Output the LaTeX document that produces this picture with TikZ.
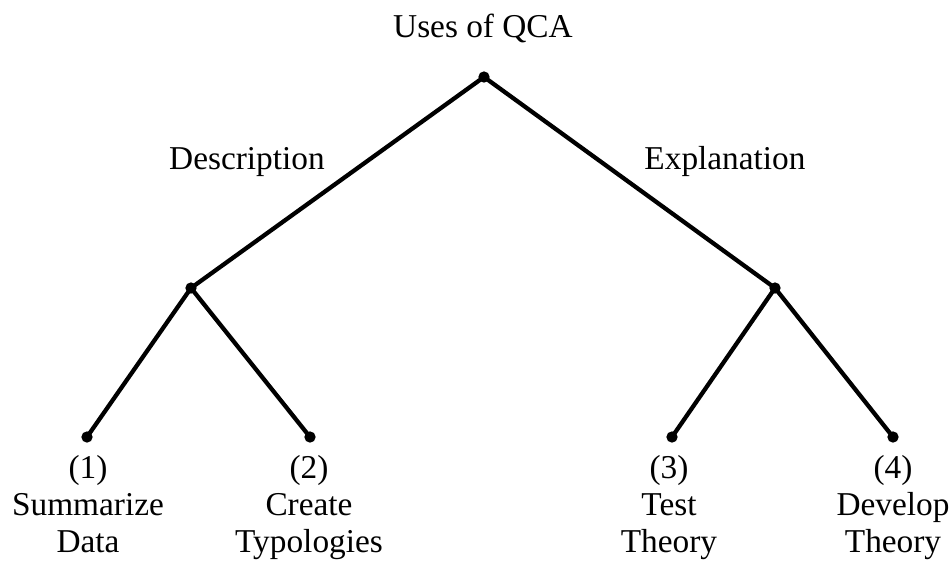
\documentclass[tikz,border=0pt]{standalone}
\usepackage{fontspec}
\setmainfont{Liberation Serif}
\begin{document}
\begin{tikzpicture}[x=0.75pt,y=-0.75pt,line width=3.2pt,
    dot/.style={circle,fill,inner sep=0pt,minimum size=8.5pt},
    lbl/.style={font=\fontsize{25}{27.75}\selectfont,inner sep=0pt}]
    \useasboundingbox (0,0) rectangle (952,562);
    \node[dot] (root) at (484,77) {};
    \node[dot] (d) at (191,288) {};
    \node[dot] (e) at (775,288) {};
    \node[dot] (l1) at (87,437) {};
    \node[dot] (l2) at (310,437) {};
    \node[dot] (l3) at (672,437) {};
    \node[dot] (l4) at (893,437) {};
    \node[lbl,anchor=base] (title) at (483,37) {Uses of QCA};
    \node[lbl,anchor=base] (desc) at (247,169) {Description};
    \node[lbl,anchor=base] (expl) at (725,169) {Explanation};
    \node[lbl,align=center,anchor=north] (t1) at (88,453) {(1)\\Summarize\\Data};
    \node[lbl,align=center,anchor=north] (t2) at (309,453) {(2)\\Create\\Typologies};
    \node[lbl,align=center,anchor=north] (t3) at (669,453) {(3)\\Test\\Theory};
    \node[lbl,align=center,anchor=north] (t4) at (893,453) {(4)\\Develop\\Theory};
    \draw (root.center) -- (d.center);
    \draw (root.center) -- (e.center);
    \draw (d.center) -- (l1.center);
    \draw (d.center) -- (l2.center);
    \draw (e.center) -- (l3.center);
    \draw (e.center) -- (l4.center);
  \end{tikzpicture}
\end{document}
